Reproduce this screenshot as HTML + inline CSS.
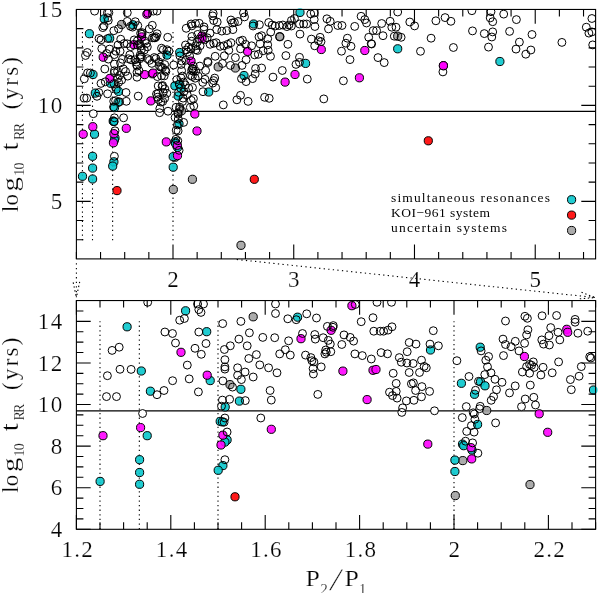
<!DOCTYPE html>
<html><head><meta charset="utf-8"><title>plot</title>
<style>html,body{margin:0;padding:0;background:#fff}body{width:600px;height:593px;overflow:hidden}</style></head>
<body>
<svg width="600" height="593" viewBox="0 0 600 593" style="display:block">
<rect width="600" height="593" fill="#fff"/>
<defs>
<clipPath id="ct"><rect x="76.4" y="9.45" width="519.2" height="249.45"/></clipPath>
<clipPath id="cb"><rect x="76.4" y="300.55" width="519.2" height="228.74999999999994"/></clipPath>
</defs>
<g fill="none" stroke="#000" stroke-width="1.1">
<path d="M76.4 111.4H595.6"/>
<path d="M82.44 240.31V28.64" stroke-dasharray="1.3 3.3"/>
<path d="M92.50 240.31V28.64" stroke-dasharray="1.3 3.3"/>
<path d="M112.62 240.31V28.64" stroke-dasharray="1.3 3.3"/>
<path d="M173.00 240.31V28.64" stroke-dasharray="1.3 3.3"/>
</g>
<g clip-path="url(#ct)">
<path d="M94.6 11.1h0M99.0 38.5h0M101.0 39.9h0M101.8 48.6h0M87.3 52.5h0M85.5 55.5h0M87.6 72.9h0M90.4 73.0h0M84.3 78.8h0M101.0 83.4h0M98.8 92.5h0M97.0 96.3h0M84.1 98.1h0M86.7 98.1h0M108.9 12.7h0M107.4 12.7h0M107.7 17.8h0M108.3 20.4h0M102.8 27.6h0M104.0 26.0h0M107.7 38.5h0M109.6 49.1h0M106.7 53.5h0M108.4 59.1h0M104.8 69.0h0M105.3 81.8h0M107.6 93.8h0M113.8 30.7h0M118.5 28.7h0M120.7 39.2h0M118.0 45.0h0M124.1 43.5h0M127.1 43.8h0M127.3 21.4h0M127.3 12.7h0M115.8 51.2h0M114.3 54.6h0M120.1 51.2h0M122.4 59.3h0M120.5 62.9h0M114.4 64.1h0M114.4 70.7h0M114.4 72.7h0M123.3 68.9h0M125.6 71.5h0M117.6 71.5h0M119.6 75.4h0M117.6 78.4h0M118.6 82.4h0M121.6 80.0h0M127.7 76.1h0M113.9 83.6h0M116.3 89.3h0M126.0 92.5h0M113.7 101.3h0M115.6 100.6h0M119.6 101.8h0M126.3 101.3h0M130.5 26.3h0M132.6 27.1h0M135.3 21.7h0M137.8 25.6h0M147.7 13.1h0M153.3 11.1h0M149.3 29.0h0M152.3 25.3h0M152.5 37.8h0M142.1 32.6h0M140.6 33.3h0M142.0 34.2h0M134.2 39.9h0M130.7 46.6h0M137.4 40.8h0M137.5 45.0h0M139.5 43.8h0M140.8 46.2h0M141.4 49.7h0M144.9 41.2h0M146.4 43.5h0M147.3 46.9h0M144.3 50.0h0M129.8 54.8h0M128.4 58.7h0M131.1 59.8h0M135.0 59.8h0M140.2 55.1h0M141.5 56.7h0M140.0 58.7h0M140.3 57.1h0M147.6 58.7h0M149.5 60.3h0M151.8 63.4h0M136.4 62.1h0M136.6 65.0h0M137.2 66.1h0M139.0 70.7h0M137.0 72.3h0M137.0 77.2h0M138.2 96.1h0M157.0 11.1h0M157.1 33.7h0M156.1 36.7h0M155.0 37.8h0M154.1 37.8h0M167.7 37.3h0M161.5 48.2h0M163.3 49.7h0M166.9 49.7h0M169.0 51.2h0M161.0 56.7h0M154.3 57.5h0M156.0 58.6h0M159.0 62.1h0M159.5 66.4h0M160.9 67.1h0M162.5 67.6h0M164.7 64.5h0M165.3 70.2h0M165.9 71.5h0M157.4 76.6h0M161.5 75.9h0M164.2 75.9h0M158.2 85.9h0M162.1 86.3h0M162.6 85.5h0M164.8 88.9h0M163.2 92.5h0M166.8 93.3h0M156.5 94.0h0M158.2 93.3h0M157.3 97.2h0M158.4 99.5h0M164.7 98.3h0M160.8 102.1h0M162.7 101.5h0M173.7 65.0h0M176.8 79.6h0M179.3 84.0h0M178.5 92.3h0M186.2 28.3h0M191.1 24.0h0M191.8 25.9h0M195.5 23.5h0M199.2 23.3h0M204.0 26.9h0M204.0 29.5h0M197.7 34.4h0M199.6 38.8h0M204.7 39.6h0M207.2 37.8h0M191.9 36.5h0M191.6 41.2h0M197.3 41.9h0M200.1 45.8h0M195.5 45.8h0M195.9 49.7h0M197.4 50.5h0M185.5 45.0h0M186.2 50.0h0M188.7 47.1h0M187.6 52.1h0M191.1 48.9h0M189.6 55.9h0M185.7 60.3h0M179.9 55.9h0M181.8 61.1h0M181.1 64.5h0M181.6 70.6h0M182.5 76.1h0M180.9 77.8h0M183.5 82.1h0M185.3 84.9h0M183.9 91.8h0M183.1 98.1h0M182.5 101.5h0M187.2 94.7h0M188.7 88.2h0M192.5 87.5h0M191.2 100.3h0M193.4 98.7h0M193.3 66.1h0M192.3 68.4h0M191.6 70.4h0M193.5 71.2h0M192.8 69.2h0M195.8 71.1h0M190.5 75.4h0M192.3 76.5h0M195.2 78.2h0M198.1 76.1h0M199.8 66.1h0M202.8 82.4h0M203.0 91.7h0M207.7 61.4h0M208.0 62.5h0M205.6 70.4h0M205.0 79.3h0M93.3 113.7h0M113.5 107.0h0M123.6 117.8h0M114.4 117.8h0M114.2 121.7h0M115.0 130.8h0M114.4 156.3h0M159.8 108.5h0M159.6 112.7h0M168.0 111.2h0M176.1 107.3h0M179.7 107.1h0M179.5 109.3h0M177.9 113.0h0M178.2 114.2h0M175.1 117.5h0M178.3 119.0h0M177.4 124.9h0M183.6 122.4h0M176.2 130.2h0M178.1 130.9h0M175.9 139.3h0M177.8 140.8h0M179.1 150.3h0M190.3 107.4h0M193.8 105.9h0M213.2 13.4h0M212.7 15.9h0M213.7 20.5h0M217.2 22.0h0M216.7 29.6h0M221.8 31.1h0M226.8 30.6h0M232.9 29.6h0M230.9 20.0h0M232.4 23.0h0M234.4 22.5h0M238.0 21.5h0M243.5 12.9h0M244.5 16.9h0M253.1 26.0h0M259.4 24.7h0M259.0 36.9h0M210.1 33.1h0M210.1 44.3h0M213.7 43.3h0M216.2 42.7h0M220.2 46.3h0M223.8 45.8h0M227.8 44.3h0M230.9 42.7h0M240.0 41.2h0M242.5 40.2h0M245.5 44.3h0M251.6 45.8h0M240.5 48.8h0M228.8 50.3h0M224.3 55.8h0M215.2 56.3h0M235.4 57.6h0M246.1 59.7h0M254.7 54.9h0M258.3 54.3h0M222.5 63.5h0M268.7 22.5h0M272.2 25.0h0M275.2 26.0h0M279.3 25.5h0M282.8 25.0h0M286.9 26.6h0M288.9 25.0h0M291.4 26.0h0M291.4 20.5h0M294.5 18.5h0M299.5 24.0h0M303.6 24.0h0M306.6 24.0h0M310.7 13.9h0M314.2 12.9h0M314.2 19.5h0M314.9 26.5h0M270.7 32.1h0M279.8 36.7h0M300.0 34.1h0M311.4 39.1h0M314.7 45.8h0M287.9 44.3h0M261.6 35.7h0M267.7 38.7h0M260.1 43.8h0M267.7 44.8h0M268.2 50.3h0M263.1 50.8h0M270.5 56.3h0M285.9 55.6h0M299.5 57.3h0M230.4 65.4h0M242.0 65.4h0M241.5 78.6h0M246.1 81.6h0M252.6 78.6h0M255.2 74.0h0M255.6 68.5h0M261.6 68.0h0M214.7 78.1h0M213.7 80.6h0M212.7 83.1h0M215.7 87.7h0M240.5 95.3h0M236.9 99.8h0M248.1 101.4h0M223.3 104.9h0M299.5 62.4h0M296.0 64.4h0M282.3 70.5h0M273.0 77.1h0M307.3 79.1h0M264.6 97.3h0M269.2 98.3h0M326.9 18.8h0M330.2 21.3h0M328.5 28.9h0M337.8 25.5h0M342.0 25.5h0M354.7 26.4h0M361.1 16.3h0M364.8 19.6h0M366.5 23.0h0M381.7 23.5h0M390.1 21.3h0M397.7 12.0h0M409.8 22.0h0M391.8 27.2h0M396.0 27.2h0M373.2 30.6h0M376.6 30.6h0M383.0 35.7h0M394.3 36.2h0M401.1 37.3h0M368.7 37.3h0M371.2 43.7h0M371.6 44.0h0M378.0 57.6h0M384.2 62.6h0M347.4 38.2h0M345.9 43.2h0M351.0 46.3h0M341.5 51.2h0M350.0 59.6h0M320.1 37.3h0M318.4 40.7h0M321.0 41.6h0M343.4 80.8h0M323.8 98.9h0M414.6 25.9h0M435.9 20.8h0M445.1 17.6h0M450.9 21.3h0M471.9 10.7h0M491.0 11.7h0M490.2 17.9h0M492.7 21.7h0M503.7 14.1h0M472.5 30.9h0M484.3 33.6h0M492.7 31.9h0M491.8 37.0h0M431.1 38.2h0M453.4 47.5h0M488.5 47.1h0M420.5 51.3h0M442.9 71.9h0M516.4 19.6h0M509.6 31.4h0M532.0 34.5h0M519.4 42.1h0M516.0 49.1h0M530.9 50.0h0M525.8 54.2h0M561.9 42.4h0M591.9 18.5h0M586.3 27.2h0M588.9 33.1h0M591.9 31.9h0M592.7 44.9h0" fill="none" stroke="#fff" stroke-width="7.9" stroke-linecap="round"/>
</g>
<g stroke="#000" stroke-width="1.0" fill-opacity="0.9">
<circle cx="121.6" cy="24.5" r="4.1" fill="#a2a2a2"/>
<circle cx="115.7" cy="87.0" r="4.1" fill="#a2a2a2"/>
<circle cx="181.4" cy="110.9" r="4.1" fill="#a2a2a2"/>
<circle cx="175.2" cy="157.2" r="4.1" fill="#a2a2a2"/>
<circle cx="173.3" cy="189.5" r="4.1" fill="#a2a2a2"/>
<circle cx="192.4" cy="179.3" r="4.1" fill="#a2a2a2"/>
<circle cx="279.8" cy="36.7" r="4.1" fill="#a2a2a2"/>
<circle cx="218.2" cy="66.9" r="4.1" fill="#a2a2a2"/>
<circle cx="235.4" cy="68.0" r="4.1" fill="#a2a2a2"/>
<circle cx="397.7" cy="36.2" r="4.1" fill="#a2a2a2"/>
<circle cx="241.0" cy="245.3" r="4.1" fill="#a2a2a2"/>
<circle cx="89.4" cy="33.7" r="4.1" fill="#08c6cc"/>
<circle cx="93.0" cy="74.5" r="4.1" fill="#08c6cc"/>
<circle cx="95.3" cy="93.1" r="4.1" fill="#08c6cc"/>
<circle cx="104.3" cy="18.9" r="4.1" fill="#08c6cc"/>
<circle cx="109.7" cy="38.2" r="4.1" fill="#08c6cc"/>
<circle cx="110.6" cy="83.3" r="4.1" fill="#08c6cc"/>
<circle cx="118.5" cy="91.4" r="4.1" fill="#08c6cc"/>
<circle cx="118.1" cy="102.3" r="4.1" fill="#08c6cc"/>
<circle cx="133.0" cy="24.8" r="4.1" fill="#08c6cc"/>
<circle cx="167.0" cy="55.1" r="4.1" fill="#08c6cc"/>
<circle cx="174.9" cy="85.8" r="4.1" fill="#08c6cc"/>
<circle cx="179.8" cy="84.4" r="4.1" fill="#08c6cc"/>
<circle cx="180.9" cy="88.1" r="4.1" fill="#08c6cc"/>
<circle cx="178.2" cy="96.0" r="4.1" fill="#08c6cc"/>
<circle cx="179.7" cy="52.5" r="4.1" fill="#08c6cc"/>
<circle cx="208.7" cy="92.0" r="4.1" fill="#08c6cc"/>
<circle cx="94.5" cy="134.2" r="4.1" fill="#08c6cc"/>
<circle cx="92.6" cy="156.3" r="4.1" fill="#08c6cc"/>
<circle cx="92.6" cy="168.1" r="4.1" fill="#08c6cc"/>
<circle cx="82.5" cy="176.3" r="4.1" fill="#08c6cc"/>
<circle cx="92.6" cy="179.0" r="4.1" fill="#08c6cc"/>
<circle cx="114.5" cy="107.7" r="4.1" fill="#08c6cc"/>
<circle cx="113.2" cy="121.0" r="4.1" fill="#08c6cc"/>
<circle cx="113.7" cy="121.4" r="4.1" fill="#08c6cc"/>
<circle cx="115.0" cy="138.1" r="4.1" fill="#08c6cc"/>
<circle cx="114.4" cy="140.1" r="4.1" fill="#08c6cc"/>
<circle cx="113.9" cy="161.8" r="4.1" fill="#08c6cc"/>
<circle cx="112.7" cy="166.1" r="4.1" fill="#08c6cc"/>
<circle cx="179.0" cy="123.8" r="4.1" fill="#08c6cc"/>
<circle cx="175.2" cy="141.9" r="4.1" fill="#08c6cc"/>
<circle cx="175.5" cy="143.4" r="4.1" fill="#08c6cc"/>
<circle cx="177.6" cy="147.4" r="4.1" fill="#08c6cc"/>
<circle cx="173.2" cy="156.7" r="4.1" fill="#08c6cc"/>
<circle cx="173.2" cy="167.2" r="4.1" fill="#08c6cc"/>
<circle cx="253.6" cy="24.0" r="4.1" fill="#08c6cc"/>
<circle cx="300.0" cy="12.4" r="4.1" fill="#08c6cc" stroke="none"/>
<circle cx="300.0" cy="12.4" r="4.1" fill="none" clip-path="url(#ct)"/>
<circle cx="305.6" cy="63.4" r="4.1" fill="#08c6cc"/>
<circle cx="244.0" cy="75.5" r="4.1" fill="#08c6cc"/>
<circle cx="397.7" cy="48.8" r="4.1" fill="#08c6cc"/>
<circle cx="499.9" cy="61.5" r="4.1" fill="#08c6cc"/>
<circle cx="103.2" cy="57.2" r="4.1" fill="#ff00ff"/>
<circle cx="109.9" cy="78.4" r="4.1" fill="#ff00ff"/>
<circle cx="146.9" cy="14.2" r="4.1" fill="#ff00ff" stroke="none"/>
<circle cx="146.9" cy="14.2" r="4.1" fill="none" clip-path="url(#ct)"/>
<circle cx="141.6" cy="36.9" r="4.1" fill="#ff00ff"/>
<circle cx="133.9" cy="44.7" r="4.1" fill="#ff00ff"/>
<circle cx="144.6" cy="74.6" r="4.1" fill="#ff00ff"/>
<circle cx="152.3" cy="73.8" r="4.1" fill="#ff00ff"/>
<circle cx="153.0" cy="73.1" r="4.1" fill="#ff00ff"/>
<circle cx="150.8" cy="100.9" r="4.1" fill="#ff00ff"/>
<circle cx="201.9" cy="36.0" r="4.1" fill="#ff00ff"/>
<circle cx="202.1" cy="38.8" r="4.1" fill="#ff00ff"/>
<circle cx="191.0" cy="61.1" r="4.1" fill="#ff00ff"/>
<circle cx="92.8" cy="126.7" r="4.1" fill="#ff00ff"/>
<circle cx="83.2" cy="134.2" r="4.1" fill="#ff00ff"/>
<circle cx="126.3" cy="128.3" r="4.1" fill="#ff00ff"/>
<circle cx="113.9" cy="133.7" r="4.1" fill="#ff00ff"/>
<circle cx="113.4" cy="142.8" r="4.1" fill="#ff00ff"/>
<circle cx="166.3" cy="141.9" r="4.1" fill="#ff00ff"/>
<circle cx="177.3" cy="145.3" r="4.1" fill="#ff00ff"/>
<circle cx="177.5" cy="155.6" r="4.1" fill="#ff00ff"/>
<circle cx="194.8" cy="114.0" r="4.1" fill="#ff00ff"/>
<circle cx="197.0" cy="131.0" r="4.1" fill="#ff00ff"/>
<circle cx="247.6" cy="51.4" r="4.1" fill="#ff00ff"/>
<circle cx="295.0" cy="74.5" r="4.1" fill="#ff00ff"/>
<circle cx="285.1" cy="82.1" r="4.1" fill="#ff00ff"/>
<circle cx="364.8" cy="50.5" r="4.1" fill="#ff00ff"/>
<circle cx="321.3" cy="49.5" r="4.1" fill="#ff00ff"/>
<circle cx="359.4" cy="77.8" r="4.1" fill="#ff00ff"/>
<circle cx="443.4" cy="65.7" r="4.1" fill="#ff00ff"/>
<circle cx="117.0" cy="190.6" r="4.1" fill="#ff0000"/>
<circle cx="428.3" cy="140.8" r="4.1" fill="#ff0000"/>
<circle cx="254.3" cy="179.3" r="4.1" fill="#ff0000"/>
</g>
<g fill="none" stroke="#000" stroke-width="1.0" clip-path="url(#ct)">
<circle cx="94.6" cy="11.1" r="3.95"/>
<circle cx="99.0" cy="38.5" r="3.95"/>
<circle cx="101.0" cy="39.9" r="3.95"/>
<circle cx="101.8" cy="48.6" r="3.95"/>
<circle cx="87.3" cy="52.5" r="3.95"/>
<circle cx="85.5" cy="55.5" r="3.95"/>
<circle cx="87.6" cy="72.9" r="3.95"/>
<circle cx="90.4" cy="73.0" r="3.95"/>
<circle cx="84.3" cy="78.8" r="3.95"/>
<circle cx="101.0" cy="83.4" r="3.95"/>
<circle cx="98.8" cy="92.5" r="3.95"/>
<circle cx="97.0" cy="96.3" r="3.95"/>
<circle cx="84.1" cy="98.1" r="3.95"/>
<circle cx="86.7" cy="98.1" r="3.95"/>
<circle cx="108.9" cy="12.7" r="3.95"/>
<circle cx="107.4" cy="12.7" r="3.95"/>
<circle cx="107.7" cy="17.8" r="3.95"/>
<circle cx="108.3" cy="20.4" r="3.95"/>
<circle cx="102.8" cy="27.6" r="3.95"/>
<circle cx="104.0" cy="26.0" r="3.95"/>
<circle cx="107.7" cy="38.5" r="3.95"/>
<circle cx="109.6" cy="49.1" r="3.95"/>
<circle cx="106.7" cy="53.5" r="3.95"/>
<circle cx="108.4" cy="59.1" r="3.95"/>
<circle cx="104.8" cy="69.0" r="3.95"/>
<circle cx="105.3" cy="81.8" r="3.95"/>
<circle cx="107.6" cy="93.8" r="3.95"/>
<circle cx="113.8" cy="30.7" r="3.95"/>
<circle cx="118.5" cy="28.7" r="3.95"/>
<circle cx="120.7" cy="39.2" r="3.95"/>
<circle cx="118.0" cy="45.0" r="3.95"/>
<circle cx="124.1" cy="43.5" r="3.95"/>
<circle cx="127.1" cy="43.8" r="3.95"/>
<circle cx="127.3" cy="21.4" r="3.95"/>
<circle cx="127.3" cy="12.7" r="3.95"/>
<circle cx="115.8" cy="51.2" r="3.95"/>
<circle cx="114.3" cy="54.6" r="3.95"/>
<circle cx="120.1" cy="51.2" r="3.95"/>
<circle cx="122.4" cy="59.3" r="3.95"/>
<circle cx="120.5" cy="62.9" r="3.95"/>
<circle cx="114.4" cy="64.1" r="3.95"/>
<circle cx="114.4" cy="70.7" r="3.95"/>
<circle cx="114.4" cy="72.7" r="3.95"/>
<circle cx="123.3" cy="68.9" r="3.95"/>
<circle cx="125.6" cy="71.5" r="3.95"/>
<circle cx="117.6" cy="71.5" r="3.95"/>
<circle cx="119.6" cy="75.4" r="3.95"/>
<circle cx="117.6" cy="78.4" r="3.95"/>
<circle cx="118.6" cy="82.4" r="3.95"/>
<circle cx="121.6" cy="80.0" r="3.95"/>
<circle cx="127.7" cy="76.1" r="3.95"/>
<circle cx="113.9" cy="83.6" r="3.95"/>
<circle cx="116.3" cy="89.3" r="3.95"/>
<circle cx="126.0" cy="92.5" r="3.95"/>
<circle cx="113.7" cy="101.3" r="3.95"/>
<circle cx="115.6" cy="100.6" r="3.95"/>
<circle cx="119.6" cy="101.8" r="3.95"/>
<circle cx="126.3" cy="101.3" r="3.95"/>
<circle cx="130.5" cy="26.3" r="3.95"/>
<circle cx="132.6" cy="27.1" r="3.95"/>
<circle cx="135.3" cy="21.7" r="3.95"/>
<circle cx="137.8" cy="25.6" r="3.95"/>
<circle cx="147.7" cy="13.1" r="3.95"/>
<circle cx="153.3" cy="11.1" r="3.95"/>
<circle cx="149.3" cy="29.0" r="3.95"/>
<circle cx="152.3" cy="25.3" r="3.95"/>
<circle cx="152.5" cy="37.8" r="3.95"/>
<circle cx="142.1" cy="32.6" r="3.95"/>
<circle cx="140.6" cy="33.3" r="3.95"/>
<circle cx="142.0" cy="34.2" r="3.95"/>
<circle cx="134.2" cy="39.9" r="3.95"/>
<circle cx="130.7" cy="46.6" r="3.95"/>
<circle cx="137.4" cy="40.8" r="3.95"/>
<circle cx="137.5" cy="45.0" r="3.95"/>
<circle cx="139.5" cy="43.8" r="3.95"/>
<circle cx="140.8" cy="46.2" r="3.95"/>
<circle cx="141.4" cy="49.7" r="3.95"/>
<circle cx="144.9" cy="41.2" r="3.95"/>
<circle cx="146.4" cy="43.5" r="3.95"/>
<circle cx="147.3" cy="46.9" r="3.95"/>
<circle cx="144.3" cy="50.0" r="3.95"/>
<circle cx="129.8" cy="54.8" r="3.95"/>
<circle cx="128.4" cy="58.7" r="3.95"/>
<circle cx="131.1" cy="59.8" r="3.95"/>
<circle cx="135.0" cy="59.8" r="3.95"/>
<circle cx="140.2" cy="55.1" r="3.95"/>
<circle cx="141.5" cy="56.7" r="3.95"/>
<circle cx="140.0" cy="58.7" r="3.95"/>
<circle cx="140.3" cy="57.1" r="3.95"/>
<circle cx="147.6" cy="58.7" r="3.95"/>
<circle cx="149.5" cy="60.3" r="3.95"/>
<circle cx="151.8" cy="63.4" r="3.95"/>
<circle cx="136.4" cy="62.1" r="3.95"/>
<circle cx="136.6" cy="65.0" r="3.95"/>
<circle cx="137.2" cy="66.1" r="3.95"/>
<circle cx="139.0" cy="70.7" r="3.95"/>
<circle cx="137.0" cy="72.3" r="3.95"/>
<circle cx="137.0" cy="77.2" r="3.95"/>
<circle cx="138.2" cy="96.1" r="3.95"/>
<circle cx="157.0" cy="11.1" r="3.95"/>
<circle cx="157.1" cy="33.7" r="3.95"/>
<circle cx="156.1" cy="36.7" r="3.95"/>
<circle cx="155.0" cy="37.8" r="3.95"/>
<circle cx="154.1" cy="37.8" r="3.95"/>
<circle cx="167.7" cy="37.3" r="3.95"/>
<circle cx="161.5" cy="48.2" r="3.95"/>
<circle cx="163.3" cy="49.7" r="3.95"/>
<circle cx="166.9" cy="49.7" r="3.95"/>
<circle cx="169.0" cy="51.2" r="3.95"/>
<circle cx="161.0" cy="56.7" r="3.95"/>
<circle cx="154.3" cy="57.5" r="3.95"/>
<circle cx="156.0" cy="58.6" r="3.95"/>
<circle cx="159.0" cy="62.1" r="3.95"/>
<circle cx="159.5" cy="66.4" r="3.95"/>
<circle cx="160.9" cy="67.1" r="3.95"/>
<circle cx="162.5" cy="67.6" r="3.95"/>
<circle cx="164.7" cy="64.5" r="3.95"/>
<circle cx="165.3" cy="70.2" r="3.95"/>
<circle cx="165.9" cy="71.5" r="3.95"/>
<circle cx="157.4" cy="76.6" r="3.95"/>
<circle cx="161.5" cy="75.9" r="3.95"/>
<circle cx="164.2" cy="75.9" r="3.95"/>
<circle cx="158.2" cy="85.9" r="3.95"/>
<circle cx="162.1" cy="86.3" r="3.95"/>
<circle cx="162.6" cy="85.5" r="3.95"/>
<circle cx="164.8" cy="88.9" r="3.95"/>
<circle cx="163.2" cy="92.5" r="3.95"/>
<circle cx="166.8" cy="93.3" r="3.95"/>
<circle cx="156.5" cy="94.0" r="3.95"/>
<circle cx="158.2" cy="93.3" r="3.95"/>
<circle cx="157.3" cy="97.2" r="3.95"/>
<circle cx="158.4" cy="99.5" r="3.95"/>
<circle cx="164.7" cy="98.3" r="3.95"/>
<circle cx="160.8" cy="102.1" r="3.95"/>
<circle cx="162.7" cy="101.5" r="3.95"/>
<circle cx="173.7" cy="65.0" r="3.95"/>
<circle cx="176.8" cy="79.6" r="3.95"/>
<circle cx="179.3" cy="84.0" r="3.95"/>
<circle cx="178.5" cy="92.3" r="3.95"/>
<circle cx="186.2" cy="28.3" r="3.95"/>
<circle cx="191.1" cy="24.0" r="3.95"/>
<circle cx="191.8" cy="25.9" r="3.95"/>
<circle cx="195.5" cy="23.5" r="3.95"/>
<circle cx="199.2" cy="23.3" r="3.95"/>
<circle cx="204.0" cy="26.9" r="3.95"/>
<circle cx="204.0" cy="29.5" r="3.95"/>
<circle cx="197.7" cy="34.4" r="3.95"/>
<circle cx="199.6" cy="38.8" r="3.95"/>
<circle cx="204.7" cy="39.6" r="3.95"/>
<circle cx="207.2" cy="37.8" r="3.95"/>
<circle cx="191.9" cy="36.5" r="3.95"/>
<circle cx="191.6" cy="41.2" r="3.95"/>
<circle cx="197.3" cy="41.9" r="3.95"/>
<circle cx="200.1" cy="45.8" r="3.95"/>
<circle cx="195.5" cy="45.8" r="3.95"/>
<circle cx="195.9" cy="49.7" r="3.95"/>
<circle cx="197.4" cy="50.5" r="3.95"/>
<circle cx="185.5" cy="45.0" r="3.95"/>
<circle cx="186.2" cy="50.0" r="3.95"/>
<circle cx="188.7" cy="47.1" r="3.95"/>
<circle cx="187.6" cy="52.1" r="3.95"/>
<circle cx="191.1" cy="48.9" r="3.95"/>
<circle cx="189.6" cy="55.9" r="3.95"/>
<circle cx="185.7" cy="60.3" r="3.95"/>
<circle cx="179.9" cy="55.9" r="3.95"/>
<circle cx="181.8" cy="61.1" r="3.95"/>
<circle cx="181.1" cy="64.5" r="3.95"/>
<circle cx="181.6" cy="70.6" r="3.95"/>
<circle cx="182.5" cy="76.1" r="3.95"/>
<circle cx="180.9" cy="77.8" r="3.95"/>
<circle cx="183.5" cy="82.1" r="3.95"/>
<circle cx="185.3" cy="84.9" r="3.95"/>
<circle cx="183.9" cy="91.8" r="3.95"/>
<circle cx="183.1" cy="98.1" r="3.95"/>
<circle cx="182.5" cy="101.5" r="3.95"/>
<circle cx="187.2" cy="94.7" r="3.95"/>
<circle cx="188.7" cy="88.2" r="3.95"/>
<circle cx="192.5" cy="87.5" r="3.95"/>
<circle cx="191.2" cy="100.3" r="3.95"/>
<circle cx="193.4" cy="98.7" r="3.95"/>
<circle cx="193.3" cy="66.1" r="3.95"/>
<circle cx="192.3" cy="68.4" r="3.95"/>
<circle cx="191.6" cy="70.4" r="3.95"/>
<circle cx="193.5" cy="71.2" r="3.95"/>
<circle cx="192.8" cy="69.2" r="3.95"/>
<circle cx="195.8" cy="71.1" r="3.95"/>
<circle cx="190.5" cy="75.4" r="3.95"/>
<circle cx="192.3" cy="76.5" r="3.95"/>
<circle cx="195.2" cy="78.2" r="3.95"/>
<circle cx="198.1" cy="76.1" r="3.95"/>
<circle cx="199.8" cy="66.1" r="3.95"/>
<circle cx="202.8" cy="82.4" r="3.95"/>
<circle cx="203.0" cy="91.7" r="3.95"/>
<circle cx="207.7" cy="61.4" r="3.95"/>
<circle cx="208.0" cy="62.5" r="3.95"/>
<circle cx="205.6" cy="70.4" r="3.95"/>
<circle cx="205.0" cy="79.3" r="3.95"/>
<circle cx="93.3" cy="113.7" r="3.95"/>
<circle cx="113.5" cy="107.0" r="3.95"/>
<circle cx="123.6" cy="117.8" r="3.95"/>
<circle cx="114.4" cy="117.8" r="3.95"/>
<circle cx="114.2" cy="121.7" r="3.95"/>
<circle cx="115.0" cy="130.8" r="3.95"/>
<circle cx="114.4" cy="156.3" r="3.95"/>
<circle cx="159.8" cy="108.5" r="3.95"/>
<circle cx="159.6" cy="112.7" r="3.95"/>
<circle cx="168.0" cy="111.2" r="3.95"/>
<circle cx="176.1" cy="107.3" r="3.95"/>
<circle cx="179.7" cy="107.1" r="3.95"/>
<circle cx="179.5" cy="109.3" r="3.95"/>
<circle cx="177.9" cy="113.0" r="3.95"/>
<circle cx="178.2" cy="114.2" r="3.95"/>
<circle cx="175.1" cy="117.5" r="3.95"/>
<circle cx="178.3" cy="119.0" r="3.95"/>
<circle cx="177.4" cy="124.9" r="3.95"/>
<circle cx="183.6" cy="122.4" r="3.95"/>
<circle cx="176.2" cy="130.2" r="3.95"/>
<circle cx="178.1" cy="130.9" r="3.95"/>
<circle cx="175.9" cy="139.3" r="3.95"/>
<circle cx="177.8" cy="140.8" r="3.95"/>
<circle cx="179.1" cy="150.3" r="3.95"/>
<circle cx="190.3" cy="107.4" r="3.95"/>
<circle cx="193.8" cy="105.9" r="3.95"/>
<circle cx="213.2" cy="13.4" r="3.95"/>
<circle cx="212.7" cy="15.9" r="3.95"/>
<circle cx="213.7" cy="20.5" r="3.95"/>
<circle cx="217.2" cy="22.0" r="3.95"/>
<circle cx="216.7" cy="29.6" r="3.95"/>
<circle cx="221.8" cy="31.1" r="3.95"/>
<circle cx="226.8" cy="30.6" r="3.95"/>
<circle cx="232.9" cy="29.6" r="3.95"/>
<circle cx="230.9" cy="20.0" r="3.95"/>
<circle cx="232.4" cy="23.0" r="3.95"/>
<circle cx="234.4" cy="22.5" r="3.95"/>
<circle cx="238.0" cy="21.5" r="3.95"/>
<circle cx="243.5" cy="12.9" r="3.95"/>
<circle cx="244.5" cy="16.9" r="3.95"/>
<circle cx="253.1" cy="26.0" r="3.95"/>
<circle cx="259.4" cy="24.7" r="3.95"/>
<circle cx="259.0" cy="36.9" r="3.95"/>
<circle cx="210.1" cy="33.1" r="3.95"/>
<circle cx="210.1" cy="44.3" r="3.95"/>
<circle cx="213.7" cy="43.3" r="3.95"/>
<circle cx="216.2" cy="42.7" r="3.95"/>
<circle cx="220.2" cy="46.3" r="3.95"/>
<circle cx="223.8" cy="45.8" r="3.95"/>
<circle cx="227.8" cy="44.3" r="3.95"/>
<circle cx="230.9" cy="42.7" r="3.95"/>
<circle cx="240.0" cy="41.2" r="3.95"/>
<circle cx="242.5" cy="40.2" r="3.95"/>
<circle cx="245.5" cy="44.3" r="3.95"/>
<circle cx="251.6" cy="45.8" r="3.95"/>
<circle cx="240.5" cy="48.8" r="3.95"/>
<circle cx="228.8" cy="50.3" r="3.95"/>
<circle cx="224.3" cy="55.8" r="3.95"/>
<circle cx="215.2" cy="56.3" r="3.95"/>
<circle cx="235.4" cy="57.6" r="3.95"/>
<circle cx="246.1" cy="59.7" r="3.95"/>
<circle cx="254.7" cy="54.9" r="3.95"/>
<circle cx="258.3" cy="54.3" r="3.95"/>
<circle cx="222.5" cy="63.5" r="3.95"/>
<circle cx="268.7" cy="22.5" r="3.95"/>
<circle cx="272.2" cy="25.0" r="3.95"/>
<circle cx="275.2" cy="26.0" r="3.95"/>
<circle cx="279.3" cy="25.5" r="3.95"/>
<circle cx="282.8" cy="25.0" r="3.95"/>
<circle cx="286.9" cy="26.6" r="3.95"/>
<circle cx="288.9" cy="25.0" r="3.95"/>
<circle cx="291.4" cy="26.0" r="3.95"/>
<circle cx="291.4" cy="20.5" r="3.95"/>
<circle cx="294.5" cy="18.5" r="3.95"/>
<circle cx="299.5" cy="24.0" r="3.95"/>
<circle cx="303.6" cy="24.0" r="3.95"/>
<circle cx="306.6" cy="24.0" r="3.95"/>
<circle cx="310.7" cy="13.9" r="3.95"/>
<circle cx="314.2" cy="12.9" r="3.95"/>
<circle cx="314.2" cy="19.5" r="3.95"/>
<circle cx="314.9" cy="26.5" r="3.95"/>
<circle cx="270.7" cy="32.1" r="3.95"/>
<circle cx="279.8" cy="36.7" r="3.95"/>
<circle cx="300.0" cy="34.1" r="3.95"/>
<circle cx="311.4" cy="39.1" r="3.95"/>
<circle cx="314.7" cy="45.8" r="3.95"/>
<circle cx="287.9" cy="44.3" r="3.95"/>
<circle cx="261.6" cy="35.7" r="3.95"/>
<circle cx="267.7" cy="38.7" r="3.95"/>
<circle cx="260.1" cy="43.8" r="3.95"/>
<circle cx="267.7" cy="44.8" r="3.95"/>
<circle cx="268.2" cy="50.3" r="3.95"/>
<circle cx="263.1" cy="50.8" r="3.95"/>
<circle cx="270.5" cy="56.3" r="3.95"/>
<circle cx="285.9" cy="55.6" r="3.95"/>
<circle cx="299.5" cy="57.3" r="3.95"/>
<circle cx="230.4" cy="65.4" r="3.95"/>
<circle cx="242.0" cy="65.4" r="3.95"/>
<circle cx="241.5" cy="78.6" r="3.95"/>
<circle cx="246.1" cy="81.6" r="3.95"/>
<circle cx="252.6" cy="78.6" r="3.95"/>
<circle cx="255.2" cy="74.0" r="3.95"/>
<circle cx="255.6" cy="68.5" r="3.95"/>
<circle cx="261.6" cy="68.0" r="3.95"/>
<circle cx="214.7" cy="78.1" r="3.95"/>
<circle cx="213.7" cy="80.6" r="3.95"/>
<circle cx="212.7" cy="83.1" r="3.95"/>
<circle cx="215.7" cy="87.7" r="3.95"/>
<circle cx="240.5" cy="95.3" r="3.95"/>
<circle cx="236.9" cy="99.8" r="3.95"/>
<circle cx="248.1" cy="101.4" r="3.95"/>
<circle cx="223.3" cy="104.9" r="3.95"/>
<circle cx="299.5" cy="62.4" r="3.95"/>
<circle cx="296.0" cy="64.4" r="3.95"/>
<circle cx="282.3" cy="70.5" r="3.95"/>
<circle cx="273.0" cy="77.1" r="3.95"/>
<circle cx="307.3" cy="79.1" r="3.95"/>
<circle cx="264.6" cy="97.3" r="3.95"/>
<circle cx="269.2" cy="98.3" r="3.95"/>
<circle cx="326.9" cy="18.8" r="3.95"/>
<circle cx="330.2" cy="21.3" r="3.95"/>
<circle cx="328.5" cy="28.9" r="3.95"/>
<circle cx="337.8" cy="25.5" r="3.95"/>
<circle cx="342.0" cy="25.5" r="3.95"/>
<circle cx="354.7" cy="26.4" r="3.95"/>
<circle cx="361.1" cy="16.3" r="3.95"/>
<circle cx="364.8" cy="19.6" r="3.95"/>
<circle cx="366.5" cy="23.0" r="3.95"/>
<circle cx="381.7" cy="23.5" r="3.95"/>
<circle cx="390.1" cy="21.3" r="3.95"/>
<circle cx="397.7" cy="12.0" r="3.95"/>
<circle cx="409.8" cy="22.0" r="3.95"/>
<circle cx="391.8" cy="27.2" r="3.95"/>
<circle cx="396.0" cy="27.2" r="3.95"/>
<circle cx="373.2" cy="30.6" r="3.95"/>
<circle cx="376.6" cy="30.6" r="3.95"/>
<circle cx="383.0" cy="35.7" r="3.95"/>
<circle cx="394.3" cy="36.2" r="3.95"/>
<circle cx="401.1" cy="37.3" r="3.95"/>
<circle cx="368.7" cy="37.3" r="3.95"/>
<circle cx="371.2" cy="43.7" r="3.95"/>
<circle cx="371.6" cy="44.0" r="3.95"/>
<circle cx="378.0" cy="57.6" r="3.95"/>
<circle cx="384.2" cy="62.6" r="3.95"/>
<circle cx="347.4" cy="38.2" r="3.95"/>
<circle cx="345.9" cy="43.2" r="3.95"/>
<circle cx="351.0" cy="46.3" r="3.95"/>
<circle cx="341.5" cy="51.2" r="3.95"/>
<circle cx="350.0" cy="59.6" r="3.95"/>
<circle cx="320.1" cy="37.3" r="3.95"/>
<circle cx="318.4" cy="40.7" r="3.95"/>
<circle cx="321.0" cy="41.6" r="3.95"/>
<circle cx="343.4" cy="80.8" r="3.95"/>
<circle cx="323.8" cy="98.9" r="3.95"/>
<circle cx="414.6" cy="25.9" r="3.95"/>
<circle cx="435.9" cy="20.8" r="3.95"/>
<circle cx="445.1" cy="17.6" r="3.95"/>
<circle cx="450.9" cy="21.3" r="3.95"/>
<circle cx="471.9" cy="10.7" r="3.95"/>
<circle cx="491.0" cy="11.7" r="3.95"/>
<circle cx="490.2" cy="17.9" r="3.95"/>
<circle cx="492.7" cy="21.7" r="3.95"/>
<circle cx="503.7" cy="14.1" r="3.95"/>
<circle cx="472.5" cy="30.9" r="3.95"/>
<circle cx="484.3" cy="33.6" r="3.95"/>
<circle cx="492.7" cy="31.9" r="3.95"/>
<circle cx="491.8" cy="37.0" r="3.95"/>
<circle cx="431.1" cy="38.2" r="3.95"/>
<circle cx="453.4" cy="47.5" r="3.95"/>
<circle cx="488.5" cy="47.1" r="3.95"/>
<circle cx="420.5" cy="51.3" r="3.95"/>
<circle cx="442.9" cy="71.9" r="3.95"/>
<circle cx="516.4" cy="19.6" r="3.95"/>
<circle cx="509.6" cy="31.4" r="3.95"/>
<circle cx="532.0" cy="34.5" r="3.95"/>
<circle cx="519.4" cy="42.1" r="3.95"/>
<circle cx="516.0" cy="49.1" r="3.95"/>
<circle cx="530.9" cy="50.0" r="3.95"/>
<circle cx="525.8" cy="54.2" r="3.95"/>
<circle cx="561.9" cy="42.4" r="3.95"/>
<circle cx="591.9" cy="18.5" r="3.95"/>
<circle cx="586.3" cy="27.2" r="3.95"/>
<circle cx="588.9" cy="33.1" r="3.95"/>
<circle cx="591.9" cy="31.9" r="3.95"/>
<circle cx="592.7" cy="44.9" r="3.95"/>
</g>
<circle cx="443.4" cy="65.7" r="4.1" fill="#ff00ff" fill-opacity="0.9" stroke="#000" stroke-width="1.0"/>
<g fill="none" stroke="#000" stroke-width="1.1">
<rect x="76.4" y="9.45" width="519.2" height="249.45"/>
<path d="M173.00 258.9v-14.3M173.00 9.45v14.3M293.74 258.9v-14.3M293.74 9.45v14.3M414.48 258.9v-14.3M414.48 9.45v14.3M535.23 258.9v-14.3M535.23 9.45v14.3M76.40 258.9v-7.0M76.40 9.45v7.0M100.55 258.9v-7.0M100.55 9.45v7.0M124.70 258.9v-7.0M124.70 9.45v7.0M148.85 258.9v-7.0M148.85 9.45v7.0M197.14 258.9v-7.0M197.14 9.45v7.0M221.29 258.9v-7.0M221.29 9.45v7.0M245.44 258.9v-7.0M245.44 9.45v7.0M269.59 258.9v-7.0M269.59 9.45v7.0M317.89 258.9v-7.0M317.89 9.45v7.0M342.04 258.9v-7.0M342.04 9.45v7.0M366.19 258.9v-7.0M366.19 9.45v7.0M390.33 258.9v-7.0M390.33 9.45v7.0M438.63 258.9v-7.0M438.63 9.45v7.0M462.78 258.9v-7.0M462.78 9.45v7.0M486.93 258.9v-7.0M486.93 9.45v7.0M511.08 258.9v-7.0M511.08 9.45v7.0M559.38 258.9v-7.0M559.38 9.45v7.0M583.53 258.9v-7.0M583.53 9.45v7.0M76.4 201.33h14.3M595.6 201.33h-14.3M76.4 105.39h14.3M595.6 105.39h-14.3M76.4 9.45h14.3M595.6 9.45h-14.3M76.4 239.71h7.0M595.6 239.71h-7.0M76.4 220.52h7.0M595.6 220.52h-7.0M76.4 182.15h7.0M595.6 182.15h-7.0M76.4 162.96h7.0M595.6 162.96h-7.0M76.4 143.77h7.0M595.6 143.77h-7.0M76.4 124.58h7.0M595.6 124.58h-7.0M76.4 86.20h7.0M595.6 86.20h-7.0M76.4 67.02h7.0M595.6 67.02h-7.0M76.4 47.83h7.0M595.6 47.83h-7.0M76.4 28.64h7.0M595.6 28.64h-7.0"/>
</g>
<g fill="none" stroke="#000" stroke-width="1.1">
<path d="M76.4 410.9H595.6"/>
<path d="M100.00 529.3V321.35" stroke-dasharray="1.3 3.3"/>
<path d="M139.33 529.3V321.35" stroke-dasharray="1.3 3.3"/>
<path d="M218.00 529.3V321.35" stroke-dasharray="1.3 3.3"/>
<path d="M454.00 529.3V321.35" stroke-dasharray="1.3 3.3"/>
</g>
<g clip-path="url(#cb)">
<path d="M147.7 302.3h0M164.9 332.0h0M172.5 333.5h0M175.5 343.0h0M119.2 347.2h0M112.1 350.4h0M120.0 369.3h0M131.1 369.4h0M107.4 375.7h0M172.6 380.7h0M164.0 390.5h0M157.0 394.7h0M106.5 396.6h0M116.5 396.6h0M203.5 304.0h0M197.6 304.0h0M198.8 309.6h0M201.0 312.4h0M179.7 320.2h0M184.4 318.5h0M198.8 332.0h0M206.0 343.5h0M195.0 348.3h0M201.3 354.3h0M187.3 365.1h0M189.2 378.9h0M198.4 391.9h0M222.7 323.6h0M240.9 321.4h0M249.4 332.8h0M238.9 339.1h0M262.8 337.4h0M274.7 337.7h0M275.5 313.5h0M275.5 304.0h0M230.3 345.8h0M224.4 349.5h0M247.2 345.8h0M256.4 354.6h0M248.8 358.5h0M224.9 359.7h0M224.9 366.9h0M224.9 369.1h0M259.8 364.9h0M268.6 367.8h0M237.6 367.8h0M245.1 372.0h0M237.6 375.3h0M241.4 379.6h0M253.2 377.0h0M277.0 372.8h0M222.9 380.9h0M232.5 387.1h0M270.1 390.5h0M222.4 400.1h0M229.6 399.3h0M245.3 400.6h0M271.3 400.1h0M287.8 318.8h0M296.2 319.7h0M306.7 313.8h0M316.5 318.0h0M355.3 304.5h0M377.0 302.3h0M361.2 321.7h0M373.0 317.7h0M373.8 331.2h0M333.3 325.6h0M327.4 326.4h0M333.0 327.3h0M302.5 333.5h0M288.6 340.8h0M314.8 334.5h0M315.3 339.1h0M323.2 337.7h0M328.3 340.4h0M330.3 344.1h0M344.0 334.9h0M350.2 337.4h0M353.6 341.1h0M341.8 344.5h0M285.3 349.7h0M279.7 353.9h0M290.3 355.1h0M305.5 355.1h0M325.7 350.0h0M330.8 351.7h0M324.9 353.9h0M326.3 352.2h0M354.9 353.9h0M362.3 355.6h0M371.3 359.0h0M310.9 357.6h0M311.9 360.7h0M313.9 361.9h0M321.2 366.9h0M313.1 368.6h0M313.4 374.0h0M317.8 394.4h0M391.5 302.3h0M392.0 326.8h0M388.1 330.1h0M383.6 331.2h0M380.2 331.2h0M433.3 330.7h0M409.2 342.5h0M416.0 344.1h0M430.0 344.1h0M438.4 345.8h0M407.2 351.7h0M381.1 352.6h0M387.5 353.8h0M399.3 357.6h0M401.3 362.2h0M406.9 363.0h0M413.1 363.5h0M421.5 360.2h0M424.1 366.4h0M426.3 367.8h0M393.2 373.3h0M409.2 372.5h0M419.5 372.5h0M396.2 383.4h0M411.4 383.8h0M413.4 382.9h0M421.9 386.6h0M415.6 390.5h0M429.6 391.4h0M389.5 392.2h0M396.2 391.4h0M392.5 395.6h0M397.1 398.1h0M421.5 396.8h0M406.4 400.9h0M413.9 400.3h0M456.9 360.7h0M469.0 376.5h0M478.5 381.3h0M475.5 390.3h0M505.5 321.0h0M524.9 316.3h0M527.4 318.3h0M542.1 315.8h0M556.6 315.5h0M575.1 319.4h0M575.1 322.2h0M550.7 327.6h0M558.1 332.3h0M577.9 333.2h0M587.7 331.2h0M527.9 329.8h0M526.6 334.9h0M549.0 335.7h0M559.8 339.9h0M541.8 339.9h0M543.5 344.1h0M549.4 345.0h0M503.0 339.1h0M505.5 344.5h0M515.3 341.3h0M511.1 346.7h0M524.6 343.3h0M519.0 350.9h0M503.5 355.6h0M481.1 350.9h0M488.6 356.5h0M485.8 360.2h0M487.5 366.8h0M491.0 372.8h0M484.8 374.6h0M495.0 379.3h0M502.0 382.3h0M496.5 389.8h0M493.6 396.6h0M491.2 400.3h0M509.5 392.9h0M515.2 385.9h0M530.3 385.1h0M525.2 399.0h0M533.8 397.3h0M533.3 361.9h0M529.6 364.4h0M526.6 366.6h0M534.2 367.4h0M531.6 365.3h0M543.1 367.3h0M522.4 372.0h0M529.6 373.2h0M540.9 375.0h0M552.2 372.8h0M558.6 361.9h0M570.4 379.6h0M571.3 389.7h0M589.7 356.8h0M590.9 358.0h0M581.3 366.6h0M579.1 376.2h0M142.6 413.5h0M221.5 406.2h0M260.8 418.0h0M224.9 418.0h0M224.1 422.2h0M227.1 432.0h0M224.9 459.7h0M402.6 407.9h0M401.8 412.4h0M434.5 410.8h0M466.3 406.6h0M480.2 406.3h0M479.6 408.7h0M473.2 412.8h0M474.3 414.0h0M462.3 417.6h0M474.9 419.3h0M471.4 425.6h0M495.6 422.9h0M466.7 431.4h0M474.1 432.1h0M465.5 441.2h0M472.6 442.9h0M477.9 453.2h0M521.5 406.7h0M535.5 405.0h0" fill="none" stroke="#fff" stroke-width="7.9" stroke-linecap="round"/>
</g>
<g stroke="#000" stroke-width="1.0" fill-opacity="0.9">
<circle cx="253.2" cy="316.8" r="4.1" fill="#a2a2a2"/>
<circle cx="230.0" cy="384.6" r="4.1" fill="#a2a2a2"/>
<circle cx="486.7" cy="410.5" r="4.1" fill="#a2a2a2"/>
<circle cx="462.8" cy="460.6" r="4.1" fill="#a2a2a2"/>
<circle cx="455.3" cy="495.6" r="4.1" fill="#a2a2a2"/>
<circle cx="530.0" cy="484.6" r="4.1" fill="#a2a2a2"/>
<circle cx="127.1" cy="326.8" r="4.1" fill="#08c6cc"/>
<circle cx="141.3" cy="371.0" r="4.1" fill="#08c6cc"/>
<circle cx="150.4" cy="391.2" r="4.1" fill="#08c6cc"/>
<circle cx="185.6" cy="310.8" r="4.1" fill="#08c6cc"/>
<circle cx="206.7" cy="331.7" r="4.1" fill="#08c6cc"/>
<circle cx="210.2" cy="380.6" r="4.1" fill="#08c6cc"/>
<circle cx="240.9" cy="389.3" r="4.1" fill="#08c6cc"/>
<circle cx="239.4" cy="401.1" r="4.1" fill="#08c6cc"/>
<circle cx="297.6" cy="317.2" r="4.1" fill="#08c6cc"/>
<circle cx="430.5" cy="350.0" r="4.1" fill="#08c6cc"/>
<circle cx="461.4" cy="383.3" r="4.1" fill="#08c6cc"/>
<circle cx="480.5" cy="381.8" r="4.1" fill="#08c6cc"/>
<circle cx="485.0" cy="385.8" r="4.1" fill="#08c6cc"/>
<circle cx="474.5" cy="394.3" r="4.1" fill="#08c6cc"/>
<circle cx="480.2" cy="347.2" r="4.1" fill="#08c6cc"/>
<circle cx="593.5" cy="390.0" r="4.1" fill="#08c6cc" stroke="none"/>
<circle cx="593.5" cy="390.0" r="4.1" fill="none" clip-path="url(#cb)"/>
<circle cx="147.2" cy="435.7" r="4.1" fill="#08c6cc"/>
<circle cx="139.6" cy="459.7" r="4.1" fill="#08c6cc"/>
<circle cx="139.6" cy="472.5" r="4.1" fill="#08c6cc"/>
<circle cx="100.1" cy="481.4" r="4.1" fill="#08c6cc"/>
<circle cx="139.6" cy="484.3" r="4.1" fill="#08c6cc"/>
<circle cx="225.2" cy="407.0" r="4.1" fill="#08c6cc"/>
<circle cx="220.2" cy="421.4" r="4.1" fill="#08c6cc"/>
<circle cx="222.4" cy="421.9" r="4.1" fill="#08c6cc"/>
<circle cx="227.1" cy="439.9" r="4.1" fill="#08c6cc"/>
<circle cx="224.9" cy="442.1" r="4.1" fill="#08c6cc"/>
<circle cx="222.9" cy="465.6" r="4.1" fill="#08c6cc"/>
<circle cx="218.2" cy="470.3" r="4.1" fill="#08c6cc"/>
<circle cx="477.6" cy="424.4" r="4.1" fill="#08c6cc"/>
<circle cx="462.5" cy="444.1" r="4.1" fill="#08c6cc"/>
<circle cx="463.7" cy="445.7" r="4.1" fill="#08c6cc"/>
<circle cx="472.0" cy="450.0" r="4.1" fill="#08c6cc"/>
<circle cx="454.9" cy="460.1" r="4.1" fill="#08c6cc"/>
<circle cx="454.9" cy="471.5" r="4.1" fill="#08c6cc"/>
<circle cx="181.0" cy="352.3" r="4.1" fill="#ff00ff"/>
<circle cx="207.2" cy="375.2" r="4.1" fill="#ff00ff"/>
<circle cx="351.9" cy="305.7" r="4.1" fill="#ff00ff"/>
<circle cx="331.1" cy="330.3" r="4.1" fill="#ff00ff"/>
<circle cx="301.0" cy="338.7" r="4.1" fill="#ff00ff"/>
<circle cx="342.9" cy="371.1" r="4.1" fill="#ff00ff"/>
<circle cx="373.0" cy="370.3" r="4.1" fill="#ff00ff"/>
<circle cx="376.0" cy="369.5" r="4.1" fill="#ff00ff"/>
<circle cx="367.1" cy="399.6" r="4.1" fill="#ff00ff"/>
<circle cx="566.8" cy="329.3" r="4.1" fill="#ff00ff"/>
<circle cx="567.7" cy="332.3" r="4.1" fill="#ff00ff"/>
<circle cx="524.4" cy="356.5" r="4.1" fill="#ff00ff"/>
<circle cx="140.6" cy="427.6" r="4.1" fill="#ff00ff"/>
<circle cx="103.0" cy="435.7" r="4.1" fill="#ff00ff"/>
<circle cx="271.3" cy="429.3" r="4.1" fill="#ff00ff"/>
<circle cx="222.9" cy="435.2" r="4.1" fill="#ff00ff"/>
<circle cx="221.0" cy="445.0" r="4.1" fill="#ff00ff"/>
<circle cx="427.8" cy="444.1" r="4.1" fill="#ff00ff"/>
<circle cx="471.0" cy="447.7" r="4.1" fill="#ff00ff"/>
<circle cx="471.7" cy="458.9" r="4.1" fill="#ff00ff"/>
<circle cx="539.2" cy="413.8" r="4.1" fill="#ff00ff"/>
<circle cx="547.7" cy="432.3" r="4.1" fill="#ff00ff"/>
<circle cx="235.0" cy="496.8" r="4.1" fill="#ff0000"/>
</g>
<g fill="none" stroke="#000" stroke-width="1.0" clip-path="url(#cb)">
<circle cx="147.7" cy="302.3" r="3.95"/>
<circle cx="164.9" cy="332.0" r="3.95"/>
<circle cx="172.5" cy="333.5" r="3.95"/>
<circle cx="175.5" cy="343.0" r="3.95"/>
<circle cx="119.2" cy="347.2" r="3.95"/>
<circle cx="112.1" cy="350.4" r="3.95"/>
<circle cx="120.0" cy="369.3" r="3.95"/>
<circle cx="131.1" cy="369.4" r="3.95"/>
<circle cx="107.4" cy="375.7" r="3.95"/>
<circle cx="172.6" cy="380.7" r="3.95"/>
<circle cx="164.0" cy="390.5" r="3.95"/>
<circle cx="157.0" cy="394.7" r="3.95"/>
<circle cx="106.5" cy="396.6" r="3.95"/>
<circle cx="116.5" cy="396.6" r="3.95"/>
<circle cx="203.5" cy="304.0" r="3.95"/>
<circle cx="197.6" cy="304.0" r="3.95"/>
<circle cx="198.8" cy="309.6" r="3.95"/>
<circle cx="201.0" cy="312.4" r="3.95"/>
<circle cx="179.7" cy="320.2" r="3.95"/>
<circle cx="184.4" cy="318.5" r="3.95"/>
<circle cx="198.8" cy="332.0" r="3.95"/>
<circle cx="206.0" cy="343.5" r="3.95"/>
<circle cx="195.0" cy="348.3" r="3.95"/>
<circle cx="201.3" cy="354.3" r="3.95"/>
<circle cx="187.3" cy="365.1" r="3.95"/>
<circle cx="189.2" cy="378.9" r="3.95"/>
<circle cx="198.4" cy="391.9" r="3.95"/>
<circle cx="222.7" cy="323.6" r="3.95"/>
<circle cx="240.9" cy="321.4" r="3.95"/>
<circle cx="249.4" cy="332.8" r="3.95"/>
<circle cx="238.9" cy="339.1" r="3.95"/>
<circle cx="262.8" cy="337.4" r="3.95"/>
<circle cx="274.7" cy="337.7" r="3.95"/>
<circle cx="275.5" cy="313.5" r="3.95"/>
<circle cx="275.5" cy="304.0" r="3.95"/>
<circle cx="230.3" cy="345.8" r="3.95"/>
<circle cx="224.4" cy="349.5" r="3.95"/>
<circle cx="247.2" cy="345.8" r="3.95"/>
<circle cx="256.4" cy="354.6" r="3.95"/>
<circle cx="248.8" cy="358.5" r="3.95"/>
<circle cx="224.9" cy="359.7" r="3.95"/>
<circle cx="224.9" cy="366.9" r="3.95"/>
<circle cx="224.9" cy="369.1" r="3.95"/>
<circle cx="259.8" cy="364.9" r="3.95"/>
<circle cx="268.6" cy="367.8" r="3.95"/>
<circle cx="237.6" cy="367.8" r="3.95"/>
<circle cx="245.1" cy="372.0" r="3.95"/>
<circle cx="237.6" cy="375.3" r="3.95"/>
<circle cx="241.4" cy="379.6" r="3.95"/>
<circle cx="253.2" cy="377.0" r="3.95"/>
<circle cx="277.0" cy="372.8" r="3.95"/>
<circle cx="222.9" cy="380.9" r="3.95"/>
<circle cx="232.5" cy="387.1" r="3.95"/>
<circle cx="270.1" cy="390.5" r="3.95"/>
<circle cx="222.4" cy="400.1" r="3.95"/>
<circle cx="229.6" cy="399.3" r="3.95"/>
<circle cx="245.3" cy="400.6" r="3.95"/>
<circle cx="271.3" cy="400.1" r="3.95"/>
<circle cx="287.8" cy="318.8" r="3.95"/>
<circle cx="296.2" cy="319.7" r="3.95"/>
<circle cx="306.7" cy="313.8" r="3.95"/>
<circle cx="316.5" cy="318.0" r="3.95"/>
<circle cx="355.3" cy="304.5" r="3.95"/>
<circle cx="377.0" cy="302.3" r="3.95"/>
<circle cx="361.2" cy="321.7" r="3.95"/>
<circle cx="373.0" cy="317.7" r="3.95"/>
<circle cx="373.8" cy="331.2" r="3.95"/>
<circle cx="333.3" cy="325.6" r="3.95"/>
<circle cx="327.4" cy="326.4" r="3.95"/>
<circle cx="333.0" cy="327.3" r="3.95"/>
<circle cx="302.5" cy="333.5" r="3.95"/>
<circle cx="288.6" cy="340.8" r="3.95"/>
<circle cx="314.8" cy="334.5" r="3.95"/>
<circle cx="315.3" cy="339.1" r="3.95"/>
<circle cx="323.2" cy="337.7" r="3.95"/>
<circle cx="328.3" cy="340.4" r="3.95"/>
<circle cx="330.3" cy="344.1" r="3.95"/>
<circle cx="344.0" cy="334.9" r="3.95"/>
<circle cx="350.2" cy="337.4" r="3.95"/>
<circle cx="353.6" cy="341.1" r="3.95"/>
<circle cx="341.8" cy="344.5" r="3.95"/>
<circle cx="285.3" cy="349.7" r="3.95"/>
<circle cx="279.7" cy="353.9" r="3.95"/>
<circle cx="290.3" cy="355.1" r="3.95"/>
<circle cx="305.5" cy="355.1" r="3.95"/>
<circle cx="325.7" cy="350.0" r="3.95"/>
<circle cx="330.8" cy="351.7" r="3.95"/>
<circle cx="324.9" cy="353.9" r="3.95"/>
<circle cx="326.3" cy="352.2" r="3.95"/>
<circle cx="354.9" cy="353.9" r="3.95"/>
<circle cx="362.3" cy="355.6" r="3.95"/>
<circle cx="371.3" cy="359.0" r="3.95"/>
<circle cx="310.9" cy="357.6" r="3.95"/>
<circle cx="311.9" cy="360.7" r="3.95"/>
<circle cx="313.9" cy="361.9" r="3.95"/>
<circle cx="321.2" cy="366.9" r="3.95"/>
<circle cx="313.1" cy="368.6" r="3.95"/>
<circle cx="313.4" cy="374.0" r="3.95"/>
<circle cx="317.8" cy="394.4" r="3.95"/>
<circle cx="391.5" cy="302.3" r="3.95"/>
<circle cx="392.0" cy="326.8" r="3.95"/>
<circle cx="388.1" cy="330.1" r="3.95"/>
<circle cx="383.6" cy="331.2" r="3.95"/>
<circle cx="380.2" cy="331.2" r="3.95"/>
<circle cx="433.3" cy="330.7" r="3.95"/>
<circle cx="409.2" cy="342.5" r="3.95"/>
<circle cx="416.0" cy="344.1" r="3.95"/>
<circle cx="430.0" cy="344.1" r="3.95"/>
<circle cx="438.4" cy="345.8" r="3.95"/>
<circle cx="407.2" cy="351.7" r="3.95"/>
<circle cx="381.1" cy="352.6" r="3.95"/>
<circle cx="387.5" cy="353.8" r="3.95"/>
<circle cx="399.3" cy="357.6" r="3.95"/>
<circle cx="401.3" cy="362.2" r="3.95"/>
<circle cx="406.9" cy="363.0" r="3.95"/>
<circle cx="413.1" cy="363.5" r="3.95"/>
<circle cx="421.5" cy="360.2" r="3.95"/>
<circle cx="424.1" cy="366.4" r="3.95"/>
<circle cx="426.3" cy="367.8" r="3.95"/>
<circle cx="393.2" cy="373.3" r="3.95"/>
<circle cx="409.2" cy="372.5" r="3.95"/>
<circle cx="419.5" cy="372.5" r="3.95"/>
<circle cx="396.2" cy="383.4" r="3.95"/>
<circle cx="411.4" cy="383.8" r="3.95"/>
<circle cx="413.4" cy="382.9" r="3.95"/>
<circle cx="421.9" cy="386.6" r="3.95"/>
<circle cx="415.6" cy="390.5" r="3.95"/>
<circle cx="429.6" cy="391.4" r="3.95"/>
<circle cx="389.5" cy="392.2" r="3.95"/>
<circle cx="396.2" cy="391.4" r="3.95"/>
<circle cx="392.5" cy="395.6" r="3.95"/>
<circle cx="397.1" cy="398.1" r="3.95"/>
<circle cx="421.5" cy="396.8" r="3.95"/>
<circle cx="406.4" cy="400.9" r="3.95"/>
<circle cx="413.9" cy="400.3" r="3.95"/>
<circle cx="456.9" cy="360.7" r="3.95"/>
<circle cx="469.0" cy="376.5" r="3.95"/>
<circle cx="478.5" cy="381.3" r="3.95"/>
<circle cx="475.5" cy="390.3" r="3.95"/>
<circle cx="505.5" cy="321.0" r="3.95"/>
<circle cx="524.9" cy="316.3" r="3.95"/>
<circle cx="527.4" cy="318.3" r="3.95"/>
<circle cx="542.1" cy="315.8" r="3.95"/>
<circle cx="556.6" cy="315.5" r="3.95"/>
<circle cx="575.1" cy="319.4" r="3.95"/>
<circle cx="575.1" cy="322.2" r="3.95"/>
<circle cx="550.7" cy="327.6" r="3.95"/>
<circle cx="558.1" cy="332.3" r="3.95"/>
<circle cx="577.9" cy="333.2" r="3.95"/>
<circle cx="587.7" cy="331.2" r="3.95"/>
<circle cx="527.9" cy="329.8" r="3.95"/>
<circle cx="526.6" cy="334.9" r="3.95"/>
<circle cx="549.0" cy="335.7" r="3.95"/>
<circle cx="559.8" cy="339.9" r="3.95"/>
<circle cx="541.8" cy="339.9" r="3.95"/>
<circle cx="543.5" cy="344.1" r="3.95"/>
<circle cx="549.4" cy="345.0" r="3.95"/>
<circle cx="503.0" cy="339.1" r="3.95"/>
<circle cx="505.5" cy="344.5" r="3.95"/>
<circle cx="515.3" cy="341.3" r="3.95"/>
<circle cx="511.1" cy="346.7" r="3.95"/>
<circle cx="524.6" cy="343.3" r="3.95"/>
<circle cx="519.0" cy="350.9" r="3.95"/>
<circle cx="503.5" cy="355.6" r="3.95"/>
<circle cx="481.1" cy="350.9" r="3.95"/>
<circle cx="488.6" cy="356.5" r="3.95"/>
<circle cx="485.8" cy="360.2" r="3.95"/>
<circle cx="487.5" cy="366.8" r="3.95"/>
<circle cx="491.0" cy="372.8" r="3.95"/>
<circle cx="484.8" cy="374.6" r="3.95"/>
<circle cx="495.0" cy="379.3" r="3.95"/>
<circle cx="502.0" cy="382.3" r="3.95"/>
<circle cx="496.5" cy="389.8" r="3.95"/>
<circle cx="493.6" cy="396.6" r="3.95"/>
<circle cx="491.2" cy="400.3" r="3.95"/>
<circle cx="509.5" cy="392.9" r="3.95"/>
<circle cx="515.2" cy="385.9" r="3.95"/>
<circle cx="530.3" cy="385.1" r="3.95"/>
<circle cx="525.2" cy="399.0" r="3.95"/>
<circle cx="533.8" cy="397.3" r="3.95"/>
<circle cx="533.3" cy="361.9" r="3.95"/>
<circle cx="529.6" cy="364.4" r="3.95"/>
<circle cx="526.6" cy="366.6" r="3.95"/>
<circle cx="534.2" cy="367.4" r="3.95"/>
<circle cx="531.6" cy="365.3" r="3.95"/>
<circle cx="543.1" cy="367.3" r="3.95"/>
<circle cx="522.4" cy="372.0" r="3.95"/>
<circle cx="529.6" cy="373.2" r="3.95"/>
<circle cx="540.9" cy="375.0" r="3.95"/>
<circle cx="552.2" cy="372.8" r="3.95"/>
<circle cx="558.6" cy="361.9" r="3.95"/>
<circle cx="570.4" cy="379.6" r="3.95"/>
<circle cx="571.3" cy="389.7" r="3.95"/>
<circle cx="589.7" cy="356.8" r="3.95"/>
<circle cx="590.9" cy="358.0" r="3.95"/>
<circle cx="581.3" cy="366.6" r="3.95"/>
<circle cx="579.1" cy="376.2" r="3.95"/>
<circle cx="142.6" cy="413.5" r="3.95"/>
<circle cx="221.5" cy="406.2" r="3.95"/>
<circle cx="260.8" cy="418.0" r="3.95"/>
<circle cx="224.9" cy="418.0" r="3.95"/>
<circle cx="224.1" cy="422.2" r="3.95"/>
<circle cx="227.1" cy="432.0" r="3.95"/>
<circle cx="224.9" cy="459.7" r="3.95"/>
<circle cx="402.6" cy="407.9" r="3.95"/>
<circle cx="401.8" cy="412.4" r="3.95"/>
<circle cx="434.5" cy="410.8" r="3.95"/>
<circle cx="466.3" cy="406.6" r="3.95"/>
<circle cx="480.2" cy="406.3" r="3.95"/>
<circle cx="479.6" cy="408.7" r="3.95"/>
<circle cx="473.2" cy="412.8" r="3.95"/>
<circle cx="474.3" cy="414.0" r="3.95"/>
<circle cx="462.3" cy="417.6" r="3.95"/>
<circle cx="474.9" cy="419.3" r="3.95"/>
<circle cx="471.4" cy="425.6" r="3.95"/>
<circle cx="495.6" cy="422.9" r="3.95"/>
<circle cx="466.7" cy="431.4" r="3.95"/>
<circle cx="474.1" cy="432.1" r="3.95"/>
<circle cx="465.5" cy="441.2" r="3.95"/>
<circle cx="472.6" cy="442.9" r="3.95"/>
<circle cx="477.9" cy="453.2" r="3.95"/>
<circle cx="521.5" cy="406.7" r="3.95"/>
<circle cx="535.5" cy="405.0" r="3.95"/>
</g>
<g fill="none" stroke="#000" stroke-width="1.1">
<rect x="76.4" y="300.55" width="519.2" height="228.74999999999994"/>
<path d="M76.40 529.3v-14.3M76.40 300.55v14.3M170.80 529.3v-14.3M170.80 300.55v14.3M265.20 529.3v-14.3M265.20 300.55v14.3M359.60 529.3v-14.3M359.60 300.55v14.3M454.00 529.3v-14.3M454.00 300.55v14.3M548.40 529.3v-14.3M548.40 300.55v14.3M100.00 529.3v-7.0M100.00 300.55v7.0M123.60 529.3v-7.0M123.60 300.55v7.0M147.20 529.3v-7.0M147.20 300.55v7.0M194.40 529.3v-7.0M194.40 300.55v7.0M218.00 529.3v-7.0M218.00 300.55v7.0M241.60 529.3v-7.0M241.60 300.55v7.0M288.80 529.3v-7.0M288.80 300.55v7.0M312.40 529.3v-7.0M312.40 300.55v7.0M336.00 529.3v-7.0M336.00 300.55v7.0M383.20 529.3v-7.0M383.20 300.55v7.0M406.80 529.3v-7.0M406.80 300.55v7.0M430.40 529.3v-7.0M430.40 300.55v7.0M477.60 529.3v-7.0M477.60 300.55v7.0M501.20 529.3v-7.0M501.20 300.55v7.0M524.80 529.3v-7.0M524.80 300.55v7.0M572.00 529.3v-7.0M572.00 300.55v7.0M595.60 529.3v-7.0M595.60 300.55v7.0M76.4 529.30h14.3M595.6 529.30h-14.3M76.4 487.71h14.3M595.6 487.71h-14.3M76.4 446.12h14.3M595.6 446.12h-14.3M76.4 404.53h14.3M595.6 404.53h-14.3M76.4 362.94h14.3M595.6 362.94h-14.3M76.4 321.35h14.3M595.6 321.35h-14.3M76.4 518.90h7.0M595.6 518.90h-7.0M76.4 508.50h7.0M595.6 508.50h-7.0M76.4 498.11h7.0M595.6 498.11h-7.0M76.4 477.31h7.0M595.6 477.31h-7.0M76.4 466.91h7.0M595.6 466.91h-7.0M76.4 456.52h7.0M595.6 456.52h-7.0M76.4 435.72h7.0M595.6 435.72h-7.0M76.4 425.32h7.0M595.6 425.32h-7.0M76.4 414.92h7.0M595.6 414.92h-7.0M76.4 394.13h7.0M595.6 394.13h-7.0M76.4 383.73h7.0M595.6 383.73h-7.0M76.4 373.33h7.0M595.6 373.33h-7.0M76.4 352.54h7.0M595.6 352.54h-7.0M76.4 342.14h7.0M595.6 342.14h-7.0M76.4 331.74h7.0M595.6 331.74h-7.0M76.4 310.95h7.0M595.6 310.95h-7.0M76.4 300.55h7.0M595.6 300.55h-7.0"/>
<path d="M76.4 263.3V297.3" stroke-dasharray="1.3 3.3"/>
<path d="M73.2 282.4L76.4 297.6M79.7 281.8L76.4 297.6" stroke-dasharray="1.4 2.6"/>
<path d="M594.8 297.5L236 259.4" stroke-dasharray="1.3 3.3"/>
<path d="M581.5 292.3L595.2 297.6M579.8 298.8L595.2 297.6" stroke-dasharray="1.4 2.6"/>
</g>
<g font-family="'Liberation Serif', serif" font-size="23" fill="#000" stroke="#fff" stroke-width="0.2" opacity="0.99">
<text x="63.6" y="17.1" text-anchor="end" letter-spacing="1.4">15</text>
<text x="63.6" y="113.1" text-anchor="end" letter-spacing="1.4">10</text>
<text x="62.3" y="209.0" text-anchor="end" letter-spacing="0">5</text>
<text x="173.0" y="286.7" text-anchor="middle">2</text>
<text x="293.7" y="286.7" text-anchor="middle">3</text>
<text x="414.5" y="286.7" text-anchor="middle">4</text>
<text x="535.2" y="286.7" text-anchor="middle">5</text>
<text x="63.6" y="329.0" text-anchor="end" letter-spacing="1.4">14</text>
<text x="63.6" y="370.6" text-anchor="end" letter-spacing="1.4">12</text>
<text x="63.6" y="412.2" text-anchor="end" letter-spacing="1.4">10</text>
<text x="62.3" y="453.8" text-anchor="end" letter-spacing="0">8</text>
<text x="62.3" y="495.4" text-anchor="end" letter-spacing="0">6</text>
<text x="62.3" y="537.0" text-anchor="end" letter-spacing="0">4</text>
<text x="77.8" y="557.2" text-anchor="middle" letter-spacing="1.3">1.2</text>
<text x="172.2" y="557.2" text-anchor="middle" letter-spacing="1.3">1.4</text>
<text x="266.6" y="557.2" text-anchor="middle" letter-spacing="1.3">1.6</text>
<text x="361.0" y="557.2" text-anchor="middle" letter-spacing="1.3">1.8</text>
<text x="454.3" y="557.2" text-anchor="middle" letter-spacing="0">2</text>
<text x="549.8" y="557.2" text-anchor="middle" letter-spacing="1.3">2.2</text>
<text transform="translate(305.5 586) scale(1.12 1)">P</text><text x="320.6" y="593.6" font-size="14.5">2</text><text transform="translate(329.3 589.8) skewX(-14)" font-size="31">/</text><text transform="translate(344.5 586) scale(1.12 1)">P</text><text x="359" y="593.6" font-size="14.5">1</text>
<text transform="translate(17.6 211.8) rotate(-90)" x="-0.3 6.2">lo</text><text transform="translate(17.6 191.4) rotate(-90) scale(1.25 1)">g</text><text transform="translate(24.2 175.8) rotate(-90)" textLength="13.2" lengthAdjust="spacing" font-size="14">10</text><text transform="translate(17.6 150.6) rotate(-90) scale(1.15 1)" font-size="25">t</text><text transform="translate(24.2 140.0) rotate(-90)" textLength="17" lengthAdjust="spacing" font-size="14">RR</text><text transform="translate(17.6 109.3) rotate(-90)" textLength="52.3" lengthAdjust="spacing">(yrs)</text>
<text transform="translate(17.6 492.4) rotate(-90)" x="-0.3 6.2">lo</text><text transform="translate(17.6 472.0) rotate(-90) scale(1.25 1)">g</text><text transform="translate(24.2 456.4) rotate(-90)" textLength="13.2" lengthAdjust="spacing" font-size="14">10</text><text transform="translate(17.6 431.2) rotate(-90) scale(1.15 1)" font-size="25">t</text><text transform="translate(24.2 420.6) rotate(-90)" textLength="17" lengthAdjust="spacing" font-size="14">RR</text><text transform="translate(17.6 389.9) rotate(-90)" textLength="52.3" lengthAdjust="spacing">(yrs)</text>
</g>
<g font-family="'Liberation Serif', serif" font-size="13.5" fill="#000" opacity="0.99">
<text x="391" y="201.8" textLength="159" lengthAdjust="spacing">simultaneous resonances</text>
<text x="391" y="217.3" textLength="99" lengthAdjust="spacing">KOI−961 system</text>
<text x="391" y="231.8" textLength="116" lengthAdjust="spacing">uncertain systems</text>
</g>
<g stroke="#000" stroke-width="1.0">
<circle cx="571.6" cy="199.7" r="4.1" fill="#08c6cc" fill-opacity="0.9"/>
<circle cx="571.6" cy="215.1" r="4.1" fill="#ff0000" fill-opacity="0.9"/>
<circle cx="571.6" cy="230.5" r="4.1" fill="#a2a2a2" fill-opacity="0.9"/>
</g>
</svg>
</body></html>
